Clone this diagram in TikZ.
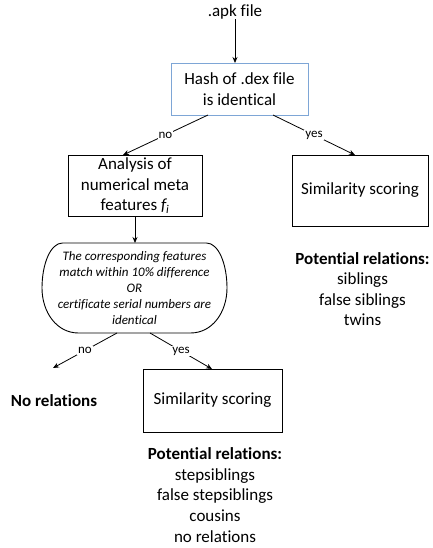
\documentclass[tikz,border=0pt]{standalone}
\usepackage{fontspec}
\setmainfont{Carlito}[Ligatures=NoCommon]
\usetikzlibrary{arrows.meta}
\definecolor{boxblue}{RGB}{126,166,214}
\begin{document}
\begin{tikzpicture}[x=1pt,y=-1pt,
  every node/.style={inner sep=0pt, outer sep=0pt},
  txt/.style={font=\fontsize{17}{20.6}\selectfont, align=center},
  box/.style={draw=black, line width=0.9pt, txt},
  lbl/.style={font=\fontsize{13}{15}\selectfont, fill=white, inner sep=1pt},
  arr/.style={draw, line width=0.8pt, -{Stealth[length=6pt,width=5pt]}}]
\useasboundingbox (0,0) rectangle (432,548);

\node[txt] (apk) at (235,12) {.apk file};
\node[box, draw=boxblue, minimum width=137pt, minimum height=52pt] (hash) at (239.5,89) {Hash of .dex file\\is identical};
\node[box, minimum width=134pt, minimum height=61pt] (ana) at (135,185.5) {Analysis of\\numerical meta\\features \textit{f\textsubscript{i}}};
\node[box, minimum width=136pt, minimum height=71pt] (sim1) at (360,190.5) {Similarity scoring};
\node[minimum width=185pt, minimum height=90pt,
  font=\fontsize{13}{16}\selectfont\itshape, align=center] (cond) at (134.5,288)
  {The corresponding features\\match within 10\% difference\\OR\\certificate serial numbers are\\identical};
\begin{scope}[shift={(cond.center)}]
\draw[line width=0.9pt] (-72,-45) -- (72,-45) .. controls (84,-45) and (92.5,-24) .. (92.5,0)
  .. controls (92.5,24) and (78,45) .. (56,45) -- (-56,45)
  .. controls (-78,45) and (-92.5,24) .. (-92.5,0)
  .. controls (-92.5,-24) and (-84,-45) .. (-72,-45) -- cycle;
\end{scope}
\node[box, minimum width=139pt, minimum height=63pt] (sim2) at (212.5,400.5) {Similarity scoring};
\node[txt, font=\fontsize{17}{20.6}\selectfont\bfseries] (norel) at (54,401) {No relations};
\node[txt] (pot1) at (362.5,289) {\textbf{Potential relations:}\\siblings\\false siblings\\twins};
\node[txt] (pot2) at (215,495) {\textbf{Potential relations:}\\stepsiblings\\false stepsiblings\\cousins\\no relations};
\coordinate (nrtip) at (53,368);

\draw[arr] (apk.south) -- (apk.south |- hash.north);
\draw[arr] ([xshift=37pt]hash.south west) -- node[lbl]{no} ([xshift=55pt]ana.north west);
\draw[arr] ([xshift=-35pt]hash.south east) -- node[lbl]{yes} ([xshift=63pt]sim1.north west);
\draw[arr] (ana.south) -- (ana.south |- cond.north);
\draw[arr] ([xshift=75pt]cond.south west) -- node[lbl]{no} (nrtip);
\draw[arr] ([xshift=108pt]cond.south west) -- node[lbl]{yes} ([xshift=69pt]sim2.north west);
\end{tikzpicture}
\end{document}
